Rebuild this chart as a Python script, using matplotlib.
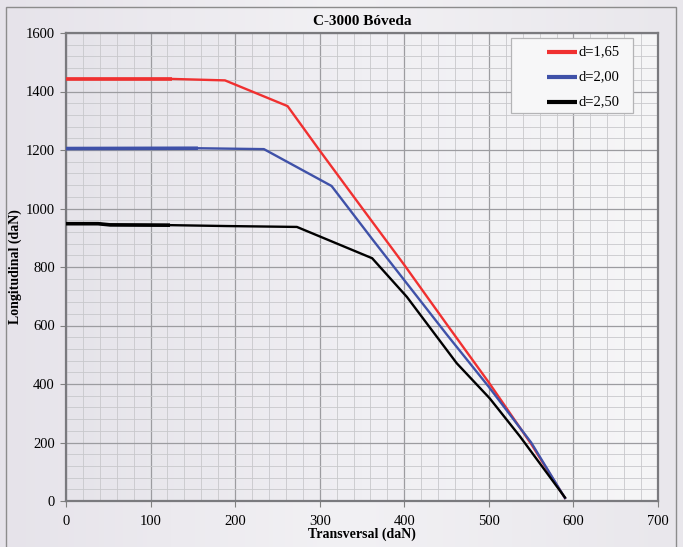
import numpy as np
import matplotlib
matplotlib.use('Agg')
import matplotlib.pyplot as plt
from matplotlib.ticker import MultipleLocator
from matplotlib.patches import Rectangle

plt.rcParams['font.family'] = ['Liberation Serif', 'DejaVu Serif']

# --- Data ---
red_x = [0, 125, 188, 262, 300, 350, 400, 450, 500, 550, 590]
red_y = [1443, 1443, 1438, 1350, 1198, 1002, 807, 605, 405, 195, 10]

blue_x = [0, 156, 234, 314, 363, 400, 450, 500, 550, 590]
blue_y = [1205, 1206, 1203, 1077, 892, 755, 570, 390, 200, 10]

black_x = [0, 38, 52, 125, 190, 273, 362, 403, 462, 501, 537, 590]
black_y = [948, 948, 944, 943, 940, 937, 830, 698, 471, 351, 220, 12]

labels = ["d=1,65", "d=2,00", "d=2,50"]
colors = ["#f03030", "#3f51a8", "#000000"]
# first segment looks drawn twice (thicker) up to these x values
thick_end = [125, 156, 123]

fig = plt.figure(figsize=(6.83, 5.47), dpi=100)
fig.patch.set_facecolor('#ebe9ee')

# figure background gradient
bg = fig.add_axes([0, 0, 1, 1], zorder=-10)
grad = np.linspace(0, 1, 256).reshape(1, -1)
bg.imshow(grad, aspect='auto', cmap=matplotlib.colors.LinearSegmentedColormap.from_list(
    'bg', ['#e6e3ea', '#f2f1f4', '#e9e7ec']), extent=[0, 1, 0, 1])
bg.axis('off')
fig.add_artist(Rectangle((6/683, -0.01), (676-6)/683, 1 - 7/547 + 0.01,
                         transform=fig.transFigure, fill=False,
                         edgecolor='#8c8c8c', lw=1.0))

ax = fig.add_axes([66/683, 46/547, 592/683, 468/547])
ax.set_xlim(0, 700)
ax.set_ylim(0, 1600)
ax.imshow(grad, aspect='auto', extent=[0, 700, 0, 1600], zorder=0,
          cmap=matplotlib.colors.LinearSegmentedColormap.from_list(
              'pa', ['#e6e4ea', '#f0eff3', '#f6f6f7']))

ax.xaxis.set_major_locator(MultipleLocator(100))
ax.xaxis.set_minor_locator(MultipleLocator(20))
ax.yaxis.set_major_locator(MultipleLocator(200))
ax.yaxis.set_minor_locator(MultipleLocator(40))
ax.grid(which='minor', color='#c8c8cb', lw=0.6, zorder=1)
ax.grid(which='major', color='#9c9ca0', lw=0.9, zorder=1)
ax.set_axisbelow(True)
ax.tick_params(which='major', direction='out', length=4, color='#808080',
               labelsize=10.5, pad=6)
ax.tick_params(axis='y', which='major', pad=4)
ax.tick_params(which='minor', length=0)
for s in ax.spines.values():
    s.set_color('#7a7a7e')
    s.set_linewidth(1.6)

series = [(red_x, red_y), (blue_x, blue_y), (black_x, black_y)]
for (xs, ys), lab, c, te in zip(series, labels, colors, thick_end):
    ax.plot(xs, ys, color=c, lw=1.7, label=lab, zorder=3)
    xs_a = np.array(xs, dtype=float)
    ys_a = np.array(ys, dtype=float)
    m = xs_a <= te
    ax.plot(list(xs_a[m]) + [te], list(ys_a[m]) + [np.interp(te, xs_a, ys_a)],
            color=c, lw=2.6, zorder=3, solid_capstyle='butt')

# legend box drawn by hand (wide empty left margin as in the original)
ax.add_patch(Rectangle((0.7517, 0.829), 0.2061, 0.1603, transform=ax.transAxes,
                       facecolor='#f7f7f8', edgecolor='#b4b4b6', lw=0.9, zorder=5))
for i, (lab, c) in enumerate(zip(labels, colors)):
    yy = 0.9594 - i * 0.0534
    ax.plot([0.8125, 0.8640], [yy, yy], color=c, lw=3, transform=ax.transAxes,
            zorder=6, solid_capstyle='butt')
    ax.text(0.8650, yy, lab, transform=ax.transAxes, fontsize=10.5,
            va='center', ha='left', zorder=6)

ax.set_title("C-3000 Bóveda", fontsize=11, fontweight='bold', pad=6)
ax.set_xlabel("Transversal (daN)", fontsize=10, fontweight='bold', labelpad=0)
ax.set_ylabel("Longitudinal (daN)", fontsize=10, fontweight='bold', labelpad=3)

fig.savefig('out.png', dpi=100)
